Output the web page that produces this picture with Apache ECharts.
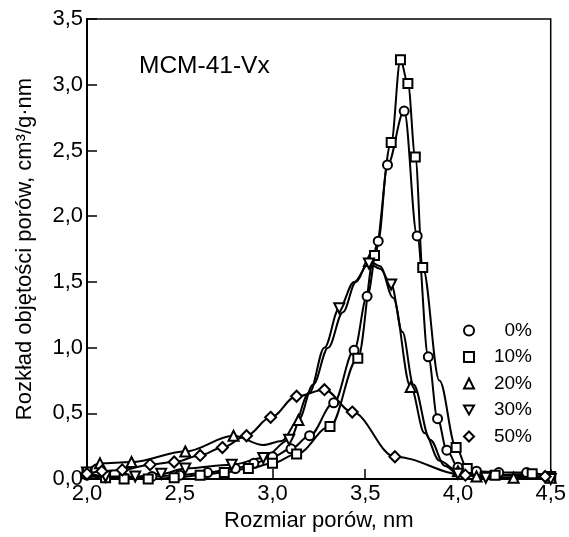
<!DOCTYPE html>
<html><head><meta charset="utf-8">
<script src="https://cdn.jsdelivr.net/npm/echarts@6/dist/echarts.min.js"></script>
<style>html,body{margin:0;padding:0;background:#fff}#c{width:569px;height:537px}</style>
</head><body><div id="c"></div>
<script>
// [x, y, marker(1) / curve-only(0)]
const names = ['0%', '10%', '20%', '30%', '50%'];
const s0 = [[2.0,0.03,1],[2.1,0.01,1],[2.2,0.01,1],[2.35,0.02,1],[2.5,0.03,1],[2.65,0.05,1],[2.8,0.08,1],[2.9,0.12,1],[3.0,0.17,1],[3.1,0.23,1],[3.2,0.33,1],[3.33,0.58,1],[3.44,0.98,1],[3.51,1.39,1],[3.57,1.81,1],[3.62,2.39,1],[3.71,2.80,1],[3.78,1.85,1],[3.84,0.93,1],[3.89,0.46,1],[3.94,0.22,1],[4.0,0.09,1],[4.1,0.06,1],[4.22,0.05,1],[4.37,0.05,1],[4.5,0.02,1]];
const s10 = [[2.0,0.04,1],[2.1,0.01,1],[2.2,0.0,1],[2.33,0.0,1],[2.47,0.01,1],[2.61,0.03,1],[2.74,0.05,1],[2.87,0.08,1],[3.0,0.12,1],[3.13,0.19,1],[3.31,0.40,1],[3.46,0.92,1],[3.55,1.70,1],[3.64,2.56,1],[3.69,3.19,1],[3.73,3.01,1],[3.77,2.45,1],[3.81,1.61,1],[3.9,0.75,0],[3.99,0.24,1],[4.05,0.08,1],[4.2,0.03,1],[4.4,0.04,1],[4.5,0.02,1]];
const s20 = [[2.0,0.06,1],[2.07,0.12,1],[2.24,0.13,1],[2.53,0.21,1],[2.79,0.33,1],[2.95,0.26,0],[3.05,0.29,0],[3.14,0.45,1],[3.22,0.72,0],[3.3,1.0,0],[3.38,1.27,0],[3.45,1.50,0],[3.52,1.66,1],[3.58,1.62,0],[3.65,1.38,0],[3.745,0.70,1],[3.82,0.35,0],[3.9,0.14,0],[4.0,0.06,1],[4.1,0.02,1],[4.3,0.01,1],[4.5,0.01,1]];
const s30 = [[2.0,0.05,1],[2.1,0.02,1],[2.26,0.02,1],[2.4,0.04,1],[2.53,0.08,1],[2.78,0.11,1],[2.95,0.16,1],[3.09,0.30,1],[3.2,0.66,0],[3.28,1.0,0],[3.36,1.30,1],[3.44,1.50,0],[3.52,1.64,1],[3.58,1.60,0],[3.64,1.48,1],[3.70,1.12,0],[3.76,0.72,0],[3.85,0.30,0],[3.93,0.10,0],[4.0,0.04,1],[4.15,0.01,1],[4.29,-0.01,1],[4.5,0.0,1]];
const s50 = [[2.0,0.04,1],[2.08,0.06,1],[2.19,0.07,1],[2.34,0.11,1],[2.47,0.13,1],[2.61,0.18,1],[2.73,0.24,1],[2.86,0.33,1],[2.99,0.47,1],[3.13,0.63,1],[3.28,0.68,1],[3.43,0.51,1],[3.66,0.17,1],[4.04,0.03,1],[4.47,0.02,1]];
const xTicks = [2.0, 2.5, 3.0, 3.5, 4.0, 4.5];
const yTicks = [0.0, 0.5, 1.0, 1.5, 2.0, 2.5, 3.0, 3.5];

const allSeries = [s0, s10, s20, s30, s50];
const symbols = ['circle', 'rect', 'triangle', 'path://M0,0 L10,0 L5,9 Z', 'diamond'];
const sizes = [9, 9, 10, 10, 11];
const FONT = 'Liberation Sans, Arial, sans-serif';
const fmt = v => v.toFixed(1).replace('.', ',');

const chart = echarts.init(document.getElementById('c'));
chart.setOption({
  animation: false,
  backgroundColor: '#fff',
  title: {text: 'MCM-41-Vx', left: 134, top: 49,
    textStyle: {fontFamily: FONT, fontSize: 24.5, fontWeight: 'normal', color: '#000'}},
  grid: {left: 87, right: 16, top: 19, bottom: 49, show: true, borderColor: '#000', borderWidth: 1.5},
  legend: {
    orient: 'vertical', left: 458, top: 316, itemWidth: 10, itemHeight: 10, itemGap: 7.5,
    textStyle: {fontFamily: FONT, fontSize: 19, color: '#000', rich: {r: {width: 53, align: 'right', fontSize: 19, fontFamily: FONT}}},
    formatter: n => '{r|' + n + '}',
    data: names.map((n, i) => ({name: n, icon: symbols[i]}))
  },
  xAxis: {
    type: 'value', min: xTicks[0], max: xTicks[xTicks.length - 1], interval: 0.5,
    name: 'Rozmiar porów, nm', nameLocation: 'middle', nameGap: 28,
    nameTextStyle: {fontFamily: FONT, fontSize: 22, color: '#000'},
    axisLine: {lineStyle: {color: '#000', width: 2}},
    axisTick: {inside: true, length: 10, lineStyle: {color: '#000', width: 1.5}},
    axisLabel: {formatter: fmt, fontFamily: FONT, fontSize: 22, color: '#000', margin: 4},
    splitLine: {show: false}
  },
  yAxis: {
    type: 'value', min: yTicks[0], max: yTicks[yTicks.length - 1], interval: 0.5,
    name: 'Rozkład objętości porów, cm³/g·nm', nameLocation: 'middle', nameGap: 51,
    nameTextStyle: {fontFamily: FONT, fontSize: 22, color: '#000'},
    axisLine: {lineStyle: {color: '#000', width: 2}},
    axisTick: {inside: true, length: 10, lineStyle: {color: '#000', width: 1.5}},
    axisLabel: {formatter: fmt, fontFamily: FONT, fontSize: 22, color: '#000', margin: 4},
    splitLine: {show: false}
  },
  series: allSeries.map((s, i) => ({
    name: names[i], type: 'line', smooth: 0.35, smoothMonotone: 'x',
    symbol: symbols[i], symbolSize: sizes[i], showAllSymbol: true,
    itemStyle: {color: '#fff', borderColor: '#000', borderWidth: 2},
    lineStyle: {color: '#000', width: 2},
    data: s.map(p => ({value: [p[0], p[1]], symbolSize: p[2] ? sizes[i] : 0}))
  }))
});
</script></body></html>
